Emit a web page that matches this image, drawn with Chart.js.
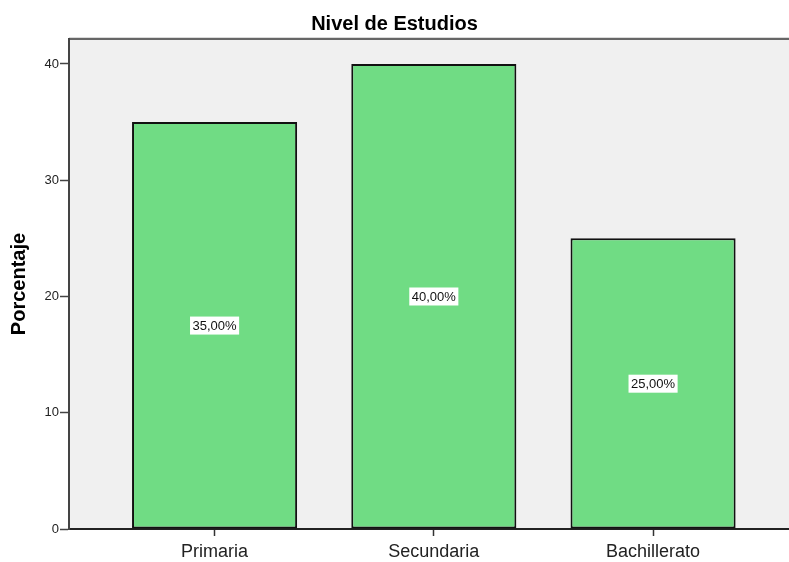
<!DOCTYPE html>
<html>
<head>
<meta charset="utf-8">
<script src="https://cdn.jsdelivr.net/npm/chart.js@4"></script>
<style>
  html, body { margin: 0; padding: 0; background: #fff; overflow: hidden; }
  #wrap { width: 789px; height: 562px; position: relative; }
</style>
</head>
<body>
<div id="wrap"><canvas id="chart"></canvas></div>
<script>
const categories = ['Primaria', 'Secundaria', 'Bachillerato'];
const porcentajes = [35, 40, 25];
const yTicks = [0, 10, 20, 30, 40];

// fondo gris del area de trazado + borde superior
const plotBackground = {
  id: 'plotBackground',
  beforeDraw(chart) {
    const { ctx, chartArea: a } = chart;
    ctx.save();
    ctx.fillStyle = '#F0F0F0';
    ctx.fillRect(a.left, a.top, a.right - a.left, a.bottom - a.top);
    ctx.strokeStyle = '#DADADA';
    ctx.lineWidth = 1;
    ctx.beginPath();
    ctx.moveTo(a.left, a.top - 1.5);
    ctx.lineTo(a.right, a.top - 1.5);
    ctx.stroke();
    ctx.strokeStyle = '#666';
    ctx.lineWidth = 2;
    ctx.beginPath();
    ctx.moveTo(a.left, a.top);
    ctx.lineTo(a.right, a.top);
    ctx.stroke();
    ctx.restore();
  }
};

// etiquetas "35,00%" en el centro de cada barra
const barLabels = {
  id: 'barLabels',
  afterDatasetsDraw(chart) {
    const { ctx } = chart;
    const yScale = chart.scales.y;
    const meta = chart.getDatasetMeta(0);
    ctx.save();
    ctx.font = '13px "Liberation Sans", Arial, sans-serif';
    ctx.textAlign = 'center';
    ctx.textBaseline = 'middle';
    meta.data.forEach((bar, i) => {
      const v = porcentajes[i];
      const txt = v.toFixed(2).replace('.', ',') + '%';
      const y = yScale.getPixelForValue(v / 2);
      const w = ctx.measureText(txt).width + 5;
      ctx.fillStyle = '#fff';
      ctx.fillRect(bar.x - w / 2, y - 9, w, 18);
      ctx.fillStyle = '#111';
      ctx.fillText(txt, bar.x, y + 1);
    });
    ctx.restore();
  }
};

new Chart(document.getElementById('chart'), {
  type: 'bar',
  data: {
    datasets: [{
      data: porcentajes.map((v, i) => ({ x: i, y: v })),
      backgroundColor: '#70DC84',
      borderColor: '#111',
      borderWidth: 2,
      borderSkipped: false,
      barPercentage: 0.753,
      categoryPercentage: 1
    }]
  },
  options: {
    responsive: true,
    maintainAspectRatio: false,
    animation: false,
    layout: { padding: { left: 0, right: 0, top: 0, bottom: 0 } },
    plugins: {
      legend: { display: false },
      tooltip: { enabled: false },
      title: {
        display: true,
        text: 'Nivel de Estudios',
        color: '#000',
        font: { family: '"Liberation Sans", Arial, sans-serif', size: 20, weight: 'bold' },
        padding: { top: 12, bottom: 3 }
      }
    },
    scales: {
      x: {
        type: 'linear',
        offset: false,
        min: -0.664,
        max: 2.62,
        afterBuildTicks: s => { s.ticks = categories.map((c, i) => ({ value: i })); },
        afterFit: s => { s.height = 33; },
        ticks: {
          callback: v => categories[v],
          color: '#222',
          font: { family: '"Liberation Sans", Arial, sans-serif', size: 18 },
          padding: 5,
          maxRotation: 0
        },
        grid: { offset: false, drawOnChartArea: false, drawTicks: true, tickLength: 7, tickColor: '#333', tickWidth: 1.5 },
        border: { color: '#222', width: 2 }
      },
      y: {
        min: 0,
        max: 42.15,
        afterBuildTicks: s => { s.ticks = yTicks.map(v => ({ value: v })); },
        afterFit: s => { s.width = 69; },
        ticks: {
          color: '#222',
          font: { family: '"Liberation Sans", Arial, sans-serif', size: 13 },
          padding: 1
        },
        grid: { drawOnChartArea: false, drawTicks: true, tickLength: 9, tickColor: '#444', tickWidth: 1.5 },
        border: { color: '#444', width: 2 },
        title: {
          display: true,
          text: 'Porcentaje',
          color: '#000',
          font: { family: '"Liberation Sans", Arial, sans-serif', size: 20, weight: 'bold' },
          padding: { top: 7, bottom: 0 }
        }
      }
    }
  },
  plugins: [plotBackground, barLabels]
});
</script>
</body>
</html>
